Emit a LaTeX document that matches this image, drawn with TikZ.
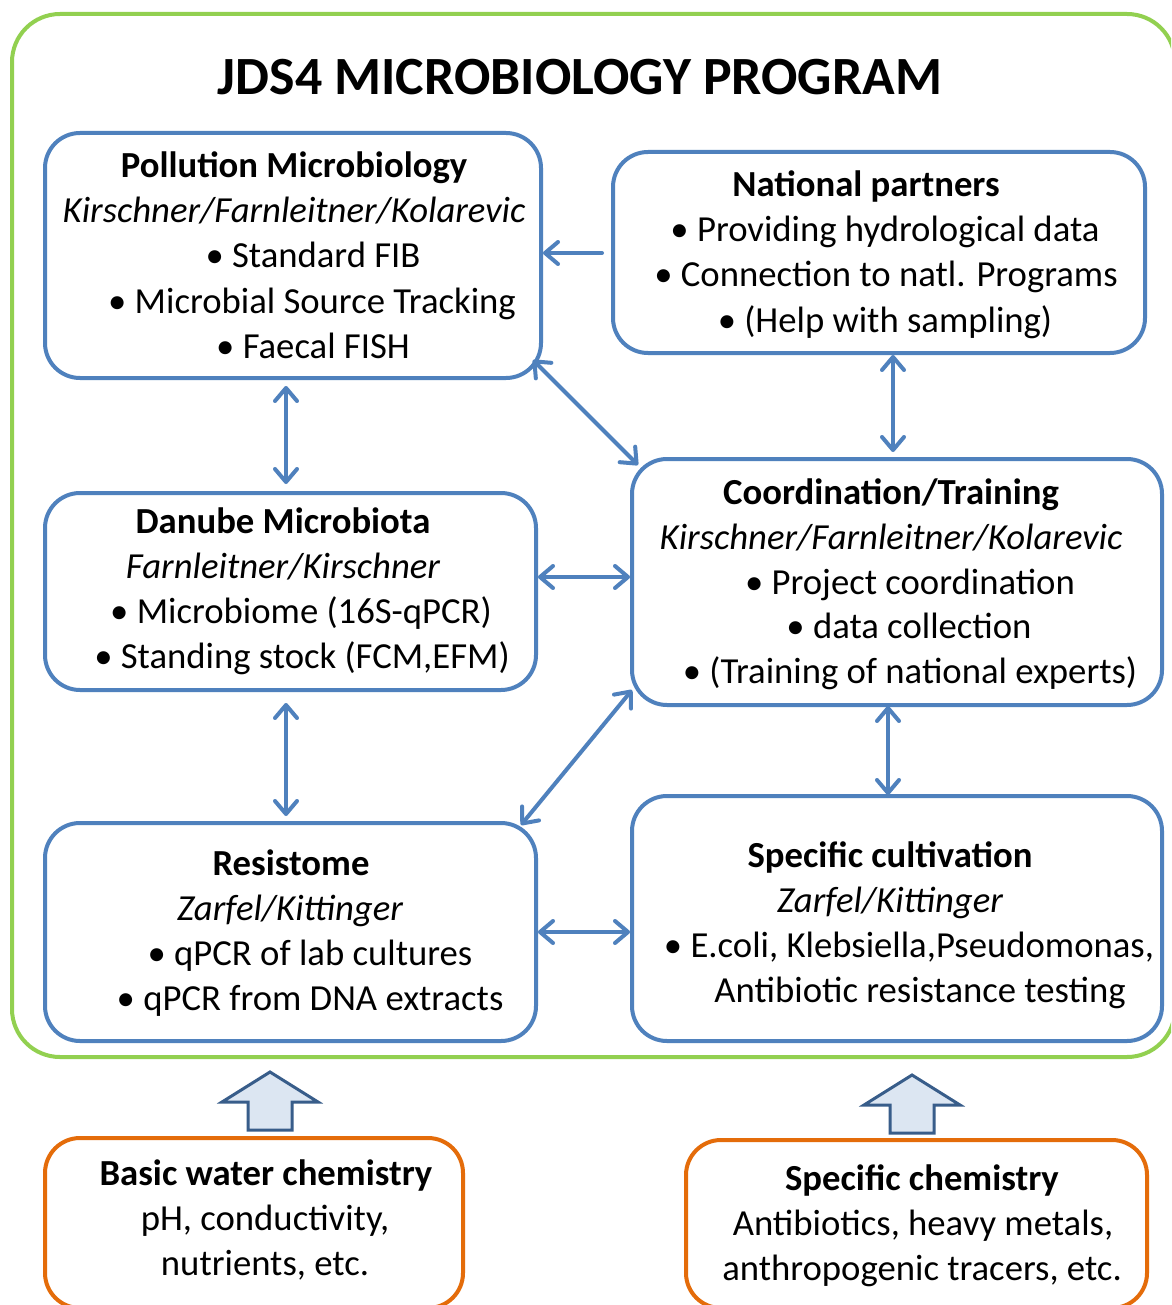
\documentclass[tikz,border=0pt]{standalone}
\usepackage{fontspec}
\setmainfont{Carlito}
\usetikzlibrary{arrows.meta}
\definecolor{boxblue}{HTML}{4F81BD}
\definecolor{framegreen}{HTML}{92D050}
\definecolor{chemorange}{HTML}{E46C0A}
\definecolor{blockfill}{HTML}{DCE6F2}
\definecolor{blockline}{HTML}{385D8A}
\newcommand\bodysize{\fontsize{36.7}{44}\selectfont}
\begin{document}
\begin{tikzpicture}[x=1pt,y=-1pt,
  barb/.tip={Straight Barb[length=13pt,width=22pt,line cap=round,line join=round]},
  bluebox/.style={rectangle,draw=boxblue,line width=4pt,rounded corners=35pt,inner sep=0pt,outer sep=0pt},
  chembox/.style={rectangle,draw=chemorange,line width=4pt,rounded corners=35pt,inner sep=0pt,outer sep=0pt},
  txt/.style={inner sep=0pt,anchor=base,font=\bodysize},
  head/.style={txt,font=\bodysize\bfseries},
  names/.style={txt,font=\bodysize\itshape},
  conn/.style={draw=boxblue,line width=4pt,line cap=round,arrows={barb-barb}},
  oneway/.style={draw=boxblue,line width=4pt,line cap=round,arrows={-barb}},
  blockarrow/.style={draw=blockline,fill=blockfill,line width=3pt,line join=miter},
  upblock/.pic={\path[blockarrow] (-22,0) -- (-22,-28) -- (-48,-28) -- (0,-58) -- (48,-28) -- (22,-28) -- (22,0) -- cycle;}
]
\path[use as bounding box] (0,0) rectangle (1171,1305);
\clip (0,0) rectangle (1171,1305);
\fill[white] (0,0) rectangle (1171,1305);

% outer programme frame
\draw[framegreen,line width=4pt,rounded corners=48pt] (12,14) rectangle (1175,1057);
\node[inner sep=0pt,anchor=base,font=\fontsize{53.8}{60}\selectfont\bfseries] (title) at (580,95) {JDS4 MICROBIOLOGY PROGRAM};

% work package boxes
\node[bluebox,minimum width=496pt,minimum height=245pt] (poll) at (293,255.5) {};
\node[bluebox,minimum width=532pt,minimum height=201pt] (natl) at (879,252.5) {};
\node[bluebox,minimum width=530pt,minimum height=246pt] (coord) at (897,582) {};
\node[bluebox,minimum width=491pt,minimum height=197pt] (danube) at (290.5,591.5) {};
\node[bluebox,minimum width=491pt,minimum height=218pt] (resist) at (290.5,932) {};
\node[bluebox,minimum width=530pt,minimum height=245pt] (cult) at (897,918.5) {};
\node[chembox,minimum width=418pt,minimum height=170pt] (water) at (254,1223) {};
\node[chembox,minimum width=461pt,minimum height=168pt] (chem) at (916.5,1224) {};

% Pollution Microbiology
\node[head]  (poll1) at (294,178) {Pollution Microbiology};
\node[names] (poll2) at (294,223) {Kirschner/Farnleitner/Kolarevic};
\node[txt]   (poll3) at (313,268) {• Standard FIB};
\node[txt]   (poll4) at (312,313) {• Microbial Source Tracking};
\node[txt]   (poll5) at (313,358) {• Faecal FISH};

% National partners
\node[head] (natl1) at (866,197) {National partners};
\node[txt]  (natl2) at (885,242) {• Providing hydrological data};
\node[txt]  (natl3) at (886,287) {• Connection to natl. Programs};
\node[txt]  (natl4) at (885,332) {• (Help with sampling)};

% Coordination/Training
\node[head]  (coord1) at (891,504) {Coordination/Training};
\node[names] (coord2) at (891,549) {Kirschner/Farnleitner/Kolarevic};
\node[txt]   (coord3) at (910,594) {• Project coordination};
\node[txt]   (coord4) at (909,638) {• data collection};
\node[txt]   (coord5) at (910,683) {• (Training of national experts)};

% Danube Microbiota
\node[head]  (dan1) at (283,533) {Danube Microbiota};
\node[names] (dan2) at (283,578) {Farnleitner/Kirschner};
\node[txt]   (dan3) at (301,623) {• Microbiome (16S-qPCR)};
\node[txt]   (dan4) at (302,668) {• Standing stock (FCM,EFM)};

% Resistome
\node[head]  (res1) at (291,875) {Resistome};
\node[names] (res2) at (290,920) {Zarfel/Kittinger};
\node[txt]   (res3) at (310,965) {• qPCR of lab cultures};
\node[txt]   (res4) at (310,1010) {• qPCR from DNA extracts};

% Specific cultivation
\node[head]  (cult1) at (890,867) {Specific cultivation};
\node[names] (cult2) at (890,912) {Zarfel/Kittinger};
\node[txt]   (cult3) at (909,957) {• E.coli, Klebsiella,Pseudomonas,};
\node[txt]   (cult4) at (920,1002) {Antibiotic resistance testing};

% chemistry inputs
\node[head] (water1) at (266,1185) {Basic water chemistry};
\node[txt]  (water2) at (265,1230) {pH, conductivity,};
\node[txt]  (water3) at (265,1275) {nutrients, etc.};
\node[head] (chem1) at (922,1190) {Specific chemistry};
\node[txt]  (chem2) at (923,1235) {Antibiotics, heavy metals,};
\node[txt]  (chem3) at (922,1280) {anthropogenic tracers, etc.};

% links between the work packages
\draw[oneway] ([xshift=-11pt,yshift=-0.5pt]natl.west) -- ([xshift=2pt,yshift=2.5pt]poll.east);
\draw[conn] ([shift={(-8,-18)}]poll.south east) -- ([shift={(6,6)}]coord.north west);
\draw[conn] ([xshift=14pt,yshift=-2pt]natl.south) -- ([xshift=-4pt,yshift=7pt]coord.north);
\draw[conn] ([xshift=-7pt,yshift=-8pt]poll.south) -- ([xshift=-4.5pt,yshift=9pt]danube.north);
\draw[conn] ([xshift=2pt,yshift=14.5pt]danube.east) -- ([xshift=-2pt,yshift=5pt]coord.west);
\draw[conn] ([xshift=-4.5pt,yshift=-13pt]danube.south) -- ([xshift=-4.5pt,yshift=7pt]resist.north);
\draw[conn] ([shift={(-15,2)}]resist.north east) -- ([shift={(0,-15)}]coord.south west);
\draw[conn] ([xshift=-9pt,yshift=-1pt]coord.south) -- ([xshift=-9pt,yshift=1pt]cult.north);
\draw[conn] ([xshift=2pt]resist.east) -- ([xshift=-2pt,yshift=-13.5pt]cult.west);

% inputs feeding the programme
\pic at (270,1130) {upblock};
\pic at (912,1133) {upblock};
\end{tikzpicture}
\end{document}
